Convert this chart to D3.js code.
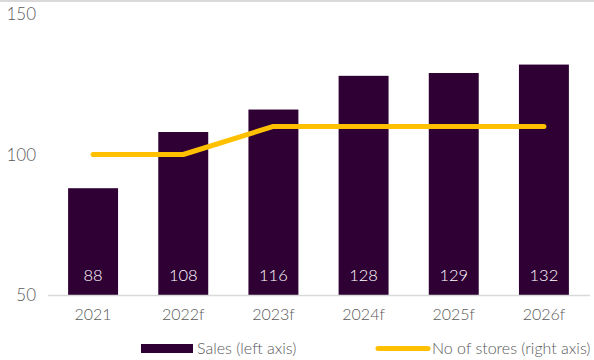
<!DOCTYPE html>
<html><head><meta charset="utf-8">
<script src="https://cdn.jsdelivr.net/npm/d3@7"></script>
<style>body{margin:0;background:#fff}svg{display:block}text{font-family:Lato,"Liberation Sans",Arial,sans-serif;font-weight:300}</style>
</head><body><svg id="c" width="594" height="360"></svg>
<script>
const categories = ["2021","2022f","2023f","2024f","2025f","2026f"];
const sales = [88,108,116,128,129,132];
const stores = [100,100,110,110,110,110];
const yTicks = [50,100,150];
const legendLabels = ["Sales (left axis)","No of stores (right axis)"];

const svg = d3.select("#c");
const W = 594, H = 360;
const x = d3.scaleBand().domain(categories).range([48,589]).paddingInner(0.446).paddingOuter(0.223);
const y = d3.scaleLinear().domain([50,150]).range([295,14]);
const yR = d3.scaleLinear().domain([50,150]).range([295,14]);

svg.append("rect").attr("x",0).attr("y",0).attr("width",W).attr("height",2).attr("fill","#d9d9d9");

const yAx = svg.append("g").attr("transform","translate(36,0)")
  .call(d3.axisLeft(y).tickValues(yTicks).tickSize(0).tickPadding(0));
yAx.select(".domain").remove();
yAx.selectAll("text").attr("font-size",17).attr("fill","#595959").attr("dy","0.35em")
  .style("font-family",null);

svg.append("g").selectAll("rect").data(sales).join("rect")
  .attr("x",(d,i)=>x(categories[i])).attr("width",x.bandwidth())
  .attr("y",d=>y(d)).attr("height",d=>y(50)-y(d)).attr("fill","#2f0034");

svg.append("line").attr("x1",48).attr("x2",590).attr("y1",y(50)+0.5).attr("y2",y(50)+0.5)
  .attr("stroke","#d9d9d9").attr("stroke-width",1.5);

svg.append("g").selectAll("text").data(sales).join("text")
  .attr("x",(d,i)=>x(categories[i])+x.bandwidth()/2).attr("y",y(50)-14)
  .attr("text-anchor","middle").attr("font-size",16.5).attr("fill","#fff").text(d=>d);

const xAx = svg.append("g").attr("transform",`translate(0,${y(50)})`)
  .call(d3.axisBottom(x).tickSize(0).tickPadding(14));
xAx.select(".domain").remove();
xAx.selectAll("text").attr("font-size",16).attr("fill","#595959").style("font-family",null);

const line = d3.line().x((d,i)=>x(categories[i])+x.bandwidth()/2).y(d=>yR(d));
svg.append("path").datum(stores).attr("d",line).attr("fill","none")
  .attr("stroke","#ffc000").attr("stroke-width",5).attr("stroke-linecap","round").attr("stroke-linejoin","round");

const lg = svg.append("g");
lg.append("rect").attr("x",141).attr("y",344).attr("width",52).attr("height",9).attr("fill","#2f0034");
lg.append("text").attr("x",197).attr("y",354).attr("font-size",16).attr("fill","#595959").text(legendLabels[0]);
lg.append("line").attr("x1",378).attr("x2",428).attr("y1",348.5).attr("y2",348.5)
  .attr("stroke","#ffc000").attr("stroke-width",5).attr("stroke-linecap","round");
lg.append("text").attr("x",432).attr("y",354).attr("font-size",16).attr("fill","#595959").text(legendLabels[1]);
</script></body></html>
